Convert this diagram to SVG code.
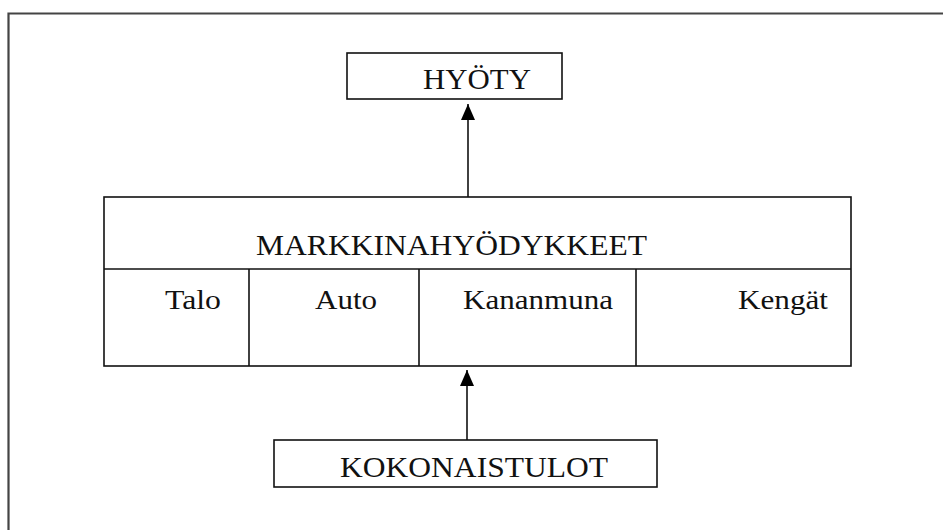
<svg xmlns="http://www.w3.org/2000/svg" width="943" height="530" viewBox="0 0 943 530">
<style>
  .box { fill: #fff; stroke: #111; stroke-width: 1.6; }
  .ln { fill: none; stroke: #111; stroke-width: 1.6; }
  .cap { font-family: "Liberation Serif", "Times New Roman", serif; font-size: 30px; fill: #111; }
  .low { font-family: "Liberation Serif", "Times New Roman", serif; font-size: 28px; fill: #111; }
</style>
<defs>
  <marker id="arr" viewBox="0 0 16 16" refX="16" refY="8" markerWidth="16" markerHeight="16" markerUnits="userSpaceOnUse" orient="auto">
    <path d="M0,1 L16,8 L0,15 Z" fill="#000"/>
  </marker>
</defs>
<rect width="943" height="530" fill="#fff"/>
<path d="M8.5,540 L8.5,13.5 L950,13.5" fill="none" stroke="#444" stroke-width="2.2"/>

<g id="connectors">
  <line class="ln" x1="468" y1="197" x2="468" y2="104" marker-end="url(#arr)"/>
  <line class="ln" x1="467" y1="440" x2="467" y2="370" marker-end="url(#arr)"/>
</g>

<g id="hyoty">
  <rect class="box" x="347" y="53" width="215" height="46"/>
  <text class="cap" x="423" y="89" textLength="108" lengthAdjust="spacingAndGlyphs">HYÖTY</text>
</g>

<g id="markkinahyodykkeet">
  <rect class="box" x="104" y="197" width="747" height="169"/>
  <line class="ln" x1="104" y1="269" x2="851" y2="269"/>
  <line class="ln" x1="249" y1="269" x2="249" y2="366"/>
  <line class="ln" x1="419" y1="269" x2="419" y2="366"/>
  <line class="ln" x1="636" y1="269" x2="636" y2="366"/>
  <text class="cap" x="256" y="255" textLength="391" lengthAdjust="spacingAndGlyphs">MARKKINAHYÖDYKKEET</text>
</g>

<g id="talo">
  <text class="low" x="165" y="309" textLength="56" lengthAdjust="spacingAndGlyphs">Talo</text>
</g>
<g id="auto">
  <text class="low" x="315" y="309" textLength="62" lengthAdjust="spacingAndGlyphs">Auto</text>
</g>
<g id="kananmuna">
  <text class="low" x="463" y="309" textLength="150" lengthAdjust="spacingAndGlyphs">Kananmuna</text>
</g>
<g id="kengat">
  <text class="low" x="738" y="309" textLength="90" lengthAdjust="spacingAndGlyphs">Kengät</text>
</g>

<g id="kokonaistulot">
  <rect class="box" x="274" y="440" width="383" height="47"/>
  <text class="cap" x="340" y="477" textLength="268" lengthAdjust="spacingAndGlyphs">KOKONAISTULOT</text>
</g>
</svg>
